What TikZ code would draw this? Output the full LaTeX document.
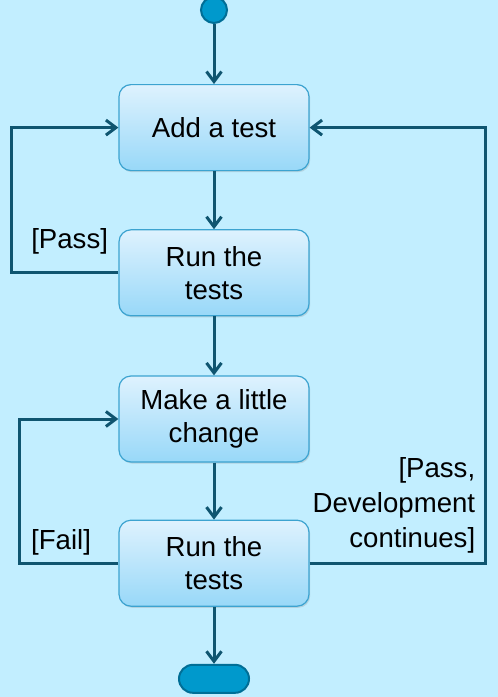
\documentclass[tikz,border=0pt]{standalone}
\usepackage{fontspec}
\setmainfont{Liberation Sans}
\usetikzlibrary{positioning}
\usetikzlibrary{arrows.meta}
\usetikzlibrary{shadows}
\definecolor{slidebg}{HTML}{C2EEFF}
\definecolor{flowline}{HTML}{0F5570}
\definecolor{actiontop}{HTML}{DEF2FE}
\definecolor{actionbottom}{HTML}{98D8F8}
\definecolor{actionrim}{HTML}{3CA3D0}
\definecolor{terminal}{HTML}{0099CC}
\definecolor{terminalrim}{HTML}{006E96}

\begin{document}
\begin{tikzpicture}
    [%
        action/.style={%
            draw=actionrim,%
            line width=0.6pt,%
            rounded corners=6pt,%
            top color=actiontop,%
            bottom color=actionbottom,%
            minimum width=95pt,%
            minimum height=43pt,%
            align=center,%
            font=\fontsize{13.8}{16.5}\selectfont,%
            drop shadow={shadow xshift=0.6pt,shadow yshift=-0.8pt,opacity=0.25}%
        },%
        initial/.style={%
            draw=terminalrim,%
            fill=terminal,%
            line width=1pt,%
            circle,%
            inner sep=0pt,%
            minimum size=13pt%
        },%
        final/.style={%
            draw=terminalrim,%
            fill=terminal,%
            line width=1pt,%
            rounded corners=7pt,%
            inner sep=0pt,%
            minimum width=35pt,%
            minimum height=14pt%
        },%
        guard/.style={%
            inner sep=0pt,%
            align=right,%
            font=\fontsize{13.8}{17.5}\selectfont%
        },%
        flow/.style={%
            draw=flowline,%
            line width=1.5pt,%
            -{Straight Barb[length=5pt,width=7.5pt]}%
        }%
    ]%
%
    \useasboundingbox[fill=slidebg] (0,0) rectangle (249pt,-348.5pt);
%
    % start, the four actions and the end, top to bottom
    \node[initial] (tdd-start) at (107pt,-5pt) {};
    \node[action, below=30pt of tdd-start] (add-test) {Add a test};
    \node[action, below=29pt of add-test] (run-tests-a) {Run the\\tests};
    \node[action, below=29.5pt of run-tests-a] (make-change) {Make a little\\change};
    \node[action, below=28.5pt of make-change] (run-tests-b) {Run the\\tests};
    \node[final, below=28.5pt of run-tests-b] (tdd-end) {};
%
    % straight flow down the middle
    % \from/\to consecutive steps
    \foreach \from/\to in {%
        tdd-start/add-test,%
        add-test/run-tests-a,%
        run-tests-a/make-change,%
        make-change/run-tests-b,%
        run-tests-b/tdd-end%
    }{
        \draw[flow] (\from) -- (\to);
    } % \foreach \from/\to
%
    % loops back up
    \draw[flow] (run-tests-a.west) -- ++(-53.5pt,0) |- (add-test.west);
    \draw[flow] (run-tests-b.west) -- ++(-49.5pt,0) |- (make-change.west);
    \draw[flow] (run-tests-b.east) -- ++(88pt,0) |- (add-test.east);
%
    % guards on the loops
    \node[guard, anchor=south east] (pass-guard)
        at ([shift={(-5pt,9pt)}]run-tests-a.west) {[Pass]};
    \node[guard, anchor=south east] (fail-guard)
        at ([shift={(-13.5pt,4pt)}]run-tests-b.west) {[Fail]};
    \node[guard, anchor=south east] (continue-guard)
        at ([shift={(83pt,5pt)}]run-tests-b.east) {[Pass,\\Development\\continues]};
\end{tikzpicture}
\end{document}
